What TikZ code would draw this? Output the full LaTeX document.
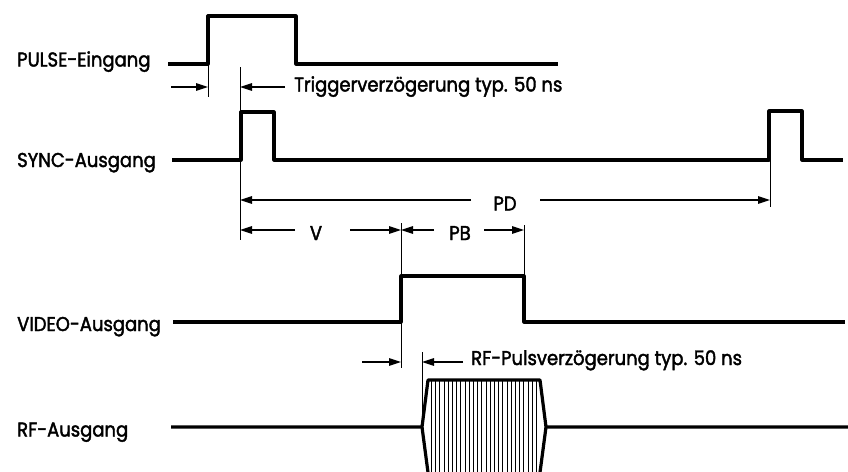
\documentclass[tikz,border=0pt]{standalone}
\usepackage{fontspec}
\setmainfont{Poppins}[FakeStretch=0.9,FakeBold=2]
\usetikzlibrary{arrows.meta}
\begin{document}
\begin{tikzpicture}[x=1pt,y=-1pt,
  sig/.style={line width=3.2pt, line join=round},
  dim/.style={line width=1.3pt},
  tickline/.style={line width=1pt},
  hatch/.style={line width=1pt},
  tip/.style={-{Triangle[length=12pt,width=7.5pt]}},
  lbl/.style={anchor=base west, inner sep=0pt, font=\fontsize{20}{20}\selectfont},
  dimtxt/.style={anchor=base, inner sep=0pt, font=\fontsize{20}{20}\selectfont}]
\useasboundingbox (0,0) rectangle (848,471);
\clip (0,0) rectangle (848,471);

% labels
\node[lbl] (lpulse) at (17,66.5) {PULSE-Eingang};
\node[lbl] (lsync)  at (17,167) {SYNC-Ausgang};
\node[lbl] (lvideo) at (17,331) {VIDEO-Ausgang};
\node[lbl] (lrf)    at (17,436.5) {RF-Ausgang};

% signals
\draw[sig] (168,64) -- (208,64) -- (208,16) -- (296,16) -- (296,64) -- (558,64);
\draw[sig] (172,160) -- (241,160) -- (241,112) -- (274,112) -- (274,160) -- (769,160)
  -- (769,111) -- (802,111) -- (802,160) -- (843,160);
\draw[sig] (173,322) -- (401,322) -- (401,276) -- (524,276) -- (524,322) -- (845,322);
% RF burst
\foreach \x in {431.5,435.7,...,538} \draw[hatch] (\x,380) -- (\x,480);
\draw[sig] (171,427) -- (422,427) -- (428,380) -- (540,380) -- (546,427) -- (848,427);
\draw[sig] (422,427) -- (429,480);
\draw[sig] (546,427) -- (539,480);

% reference ticks
\coordinate (t1a) at (208,64);   \coordinate (t1b) at (208,97);
\coordinate (t2a) at (240,67);   \coordinate (t2b) at (240,240);
\coordinate (t3a) at (770,160);  \coordinate (t3b) at (770,207);
\coordinate (t4a) at (401,223);  \coordinate (t4b) at (401,368);
\coordinate (t5a) at (524,225);  \coordinate (t5b) at (524,276);
\coordinate (t6a) at (422,352);  \coordinate (t6b) at (422,427);
\foreach \i in {1,...,6} \draw[tickline] (t\i a) -- (t\i b);

% trigger delay
\coordinate (tr1) at (171,87);   \coordinate (tr1e) at (208,87);
\coordinate (tr2) at (285,87);   \coordinate (tr2e) at (240,87);
\draw[dim,tip] (tr1) -- (tr1e);
\draw[dim,tip] (tr2) -- (tr2e);
\node[lbl] (trig) at (294,91.5) {Triggerverzögerung typ. 50 ns};

% PD
\node[dimtxt] (pd) at (505,210.5) {PD};
\coordinate (pdl) at (471,200); \coordinate (pdle) at (240,200);
\coordinate (pdr) at (540,200); \coordinate (pdre) at (770,200);
\draw[dim,tip] (pdl) -- (pdle);
\draw[dim,tip] (pdr) -- (pdre);

% V
\node[dimtxt] (v) at (316,240) {V};
\coordinate (vl) at (295,230); \coordinate (vle) at (240,230);
\coordinate (vr) at (350,230); \coordinate (vre) at (401,230);
\draw[dim,tip] (vl) -- (vle);
\draw[dim,tip] (vr) -- (vre);

% PB
\node[dimtxt] (pb) at (460,240) {PB};
\coordinate (pbl) at (434,230); \coordinate (pble) at (401,230);
\coordinate (pbr) at (484,230); \coordinate (pbre) at (524,230);
\draw[dim,tip] (pbl) -- (pble);
\draw[dim,tip] (pbr) -- (pbre);

% RF delay
\coordinate (rf1) at (362,362); \coordinate (rf1e) at (401,362);
\coordinate (rf2) at (463,362); \coordinate (rf2e) at (422,362);
\draw[dim,tip] (rf1) -- (rf1e);
\draw[dim,tip] (rf2) -- (rf2e);
\node[lbl] (rfd) at (471,365) {RF-Pulsverzögerung typ. 50 ns};
\end{tikzpicture}
\end{document}
